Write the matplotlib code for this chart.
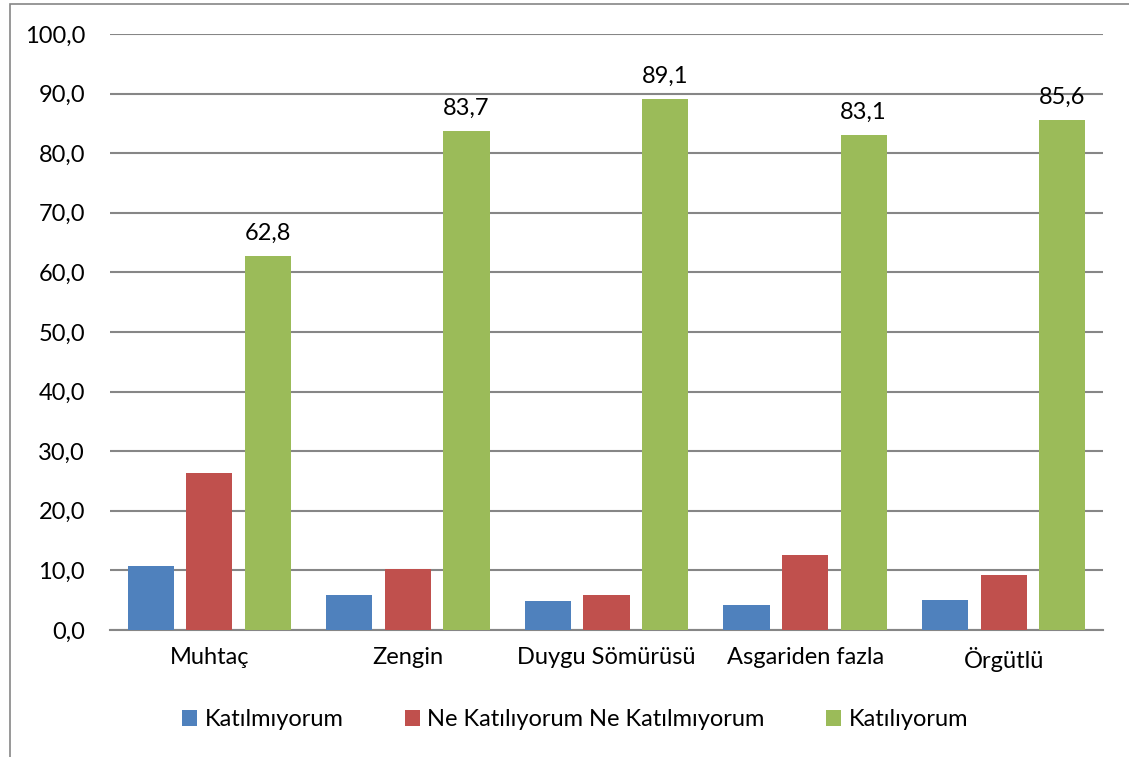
import numpy as np
import matplotlib.pyplot as plt
from matplotlib.patches import Rectangle

categories = ['Muhtaç', 'Zengin', 'Duygu Sömürüsü', 'Asgariden fazla', 'Örgütlü']
series = ['Katılmıyorum', 'Ne Katılıyorum Ne Katılmıyorum', 'Katılıyorum']
katilmiyorum = [10.8, 5.9, 4.9, 4.2, 5.0]
kararsiz = [26.3, 10.3, 5.9, 12.6, 9.3]
katiliyorum = [62.8, 83.7, 89.1, 83.1, 85.6]
colors = ['#4f81bd', '#c0504d', '#9bbb59']

plt.rcParams['font.family'] = ['Lato', 'DejaVu Sans']
fs = 17

fig = plt.figure(figsize=(11.29, 7.57), dpi=100)
ax = fig.add_axes([110 / 1129, 1 - 630 / 757, 993 / 1129, 596 / 757])

x = np.arange(len(categories))
pitch = 0.295
width = 0.232
for i, (vals, name) in enumerate(zip([katilmiyorum, kararsiz, katiliyorum], series)):
    bars = ax.bar(x + (i - 1) * pitch, vals, width, color=colors[i], label=name, zorder=3)
    if i == 2:
        for b, v in zip(bars, vals):
            ax.text(b.get_x() + b.get_width() / 2, v + 2.0, f'{v:.1f}'.replace('.', ','),
                    ha='center', va='bottom', fontsize=fs)

ax.set_xlim(-0.5, len(categories) - 0.5)
ax.set_ylim(0, 100)
ax.set_yticks(np.arange(0, 101, 10))
ax.set_yticklabels([f'{t:.1f}'.replace('.', ',') for t in np.arange(0, 101, 10)], fontsize=fs)
ax.set_xticks(x)
ax.set_xticklabels(categories, fontsize=fs)
ax.tick_params(axis='x', length=0, pad=12)
ax.tick_params(axis='y', length=0, pad=18)
ax.yaxis.grid(True, color='#868686', linewidth=1.5, zorder=0)
for s in ['left', 'right', 'top']:
    ax.spines[s].set_visible(False)
ax.spines['bottom'].set_color('#868686')
ax.spines['bottom'].set_linewidth(1.5)

leg = fig.legend(loc='center', bbox_to_anchor=(575 / 1129, 1 - 720 / 757), ncol=3,
                 frameon=False, fontsize=fs, handlelength=0.65, handleheight=0.65,
                 handletextpad=0.3, columnspacing=2.6)

fig.patches.append(Rectangle((10 / 1129, -0.05), 1.2, 1 - 4 / 757 + 0.05,
                             transform=fig.transFigure, fill=False,
                             edgecolor='#868686', linewidth=1.2))

fig.savefig('out.png', dpi=100)
